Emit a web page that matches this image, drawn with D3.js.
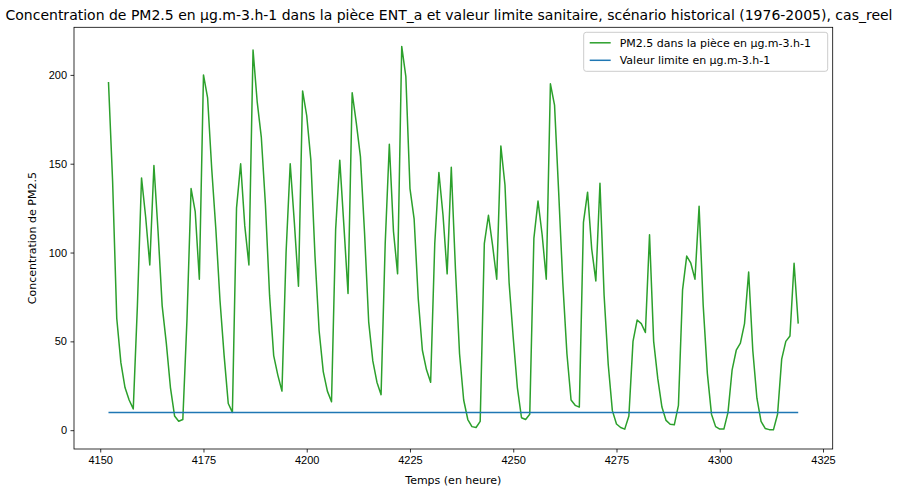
<!DOCTYPE html>
<html>
<head>
<meta charset="utf-8">
<script src="https://cdn.jsdelivr.net/npm/d3@7"></script>
<style>
  body { margin: 0; background: #fff; }
  svg { font-family: "DejaVu Sans", sans-serif; }
  .tick text { font-size: 11px; fill: #000; }
  .tick line { stroke: #000; stroke-width: 0.8; }
</style>
</head>
<body>
<svg id="chart" width="897" height="490"></svg>
<script>
// hourly PM2.5 values, first value at hour 4152
const hourStart = 4152;
const pm25 = [
  196, 140, 63, 38, 24, 17, 12, 70, 142, 120, 93, 149,
  112, 70, 49, 24, 8, 5, 6, 62, 136, 123, 85, 200,
  187, 147, 113, 73, 42, 15, 10, 125, 150, 115, 93, 214,
  185, 165, 127, 76, 42, 31, 22, 100, 150, 117, 81, 191,
  177, 152, 98, 56, 33, 22, 16, 113, 152, 115, 77, 190,
  173, 154, 111, 61, 39, 27, 20, 105, 161, 112, 88, 216,
  199, 136, 119, 74, 45, 34, 27, 105, 145, 121, 88, 148,
  91, 43, 17, 6, 2, 1.5, 5, 105, 121, 104, 85, 160,
  138, 83, 52, 24, 7, 6, 9, 108, 129, 110, 85, 195,
  183, 134, 83, 43, 17, 14, 13, 117, 134, 102, 84, 139,
  76, 37, 11, 3.5, 1.5, 0.6, 8, 50, 62, 60, 55, 110,
  50, 29, 13, 5.5, 3.3, 3, 14, 79, 98, 94, 85, 126,
  70, 32, 9, 2, 0.6, 0.6, 10, 34, 45, 49, 60, 89,
  45, 18, 5, 1, 0.3, 0.2, 9, 40, 50, 53, 94, 60
];
const limitValue = 10;

const xTicks = [4150, 4175, 4200, 4225, 4250, 4275, 4300, 4325];
const yTicks = [0, 50, 100, 150, 200];

const titleText = "Concentration de PM2.5 en µg.m-3.h-1 dans la pièce ENT_a et valeur limite sanitaire, scénario historical (1976-2005), cas_reel";
const xLabel = "Temps (en heure)";
const yLabel = "Concentration de PM2.5";
const legendNames = ["PM2.5 dans la pièce en µg.m-3.h-1", "Valeur limite en µg.m-3.h-1"];
const colors = ["#2ca02c", "#1f77b4"];

// axes box in pixels
const margin = { top: 27.3, right: 64.3, bottom: 41, left: 74 };
const width = 897, height = 490;

const series = pm25.map((v, i) => ({ h: hourStart + i, v: v }));
const limitSeries = series.map(d => ({ h: d.h, v: limitValue }));

const svg = d3.select("#chart");

// matplotlib-like 5% margins
const hExt = d3.extent(series, d => d.h);
const hPad = (hExt[1] - hExt[0]) * 0.05;
const vMin = Math.min(d3.min(pm25), limitValue);
const vMax = Math.max(d3.max(pm25), limitValue);
const vPad = (vMax - vMin) * 0.05;

const x = d3.scaleLinear()
  .domain([hExt[0] - hPad, hExt[1] + hPad])
  .range([margin.left, width - margin.right]);
const y = d3.scaleLinear()
  .domain([vMin - vPad, vMax + vPad])
  .range([height - margin.bottom, margin.top]);

// x axis
const xAxis = d3.axisBottom(x).tickValues(xTicks).tickFormat(d3.format("d"))
  .tickSize(3.5).tickPadding(3.5).tickSizeOuter(0);
svg.append("g")
  .attr("transform", `translate(0, ${height - margin.bottom})`)
  .call(xAxis)
  .call(g => g.select(".domain").remove());

// y axis
const yAxis = d3.axisLeft(y).tickValues(yTicks).tickFormat(d3.format("d"))
  .tickSize(3.5).tickPadding(3.5).tickSizeOuter(0);
svg.append("g")
  .attr("transform", `translate(${margin.left}, 0)`)
  .call(yAxis)
  .call(g => g.select(".domain").remove());

// lines
const line = d3.line().x(d => x(d.h)).y(d => y(d.v));
svg.append("path")
  .datum(series)
  .attr("fill", "none")
  .attr("stroke", colors[0])
  .attr("stroke-width", 1.5)
  .attr("stroke-linejoin", "round")
  .attr("d", line);
svg.append("path")
  .datum(limitSeries)
  .attr("fill", "none")
  .attr("stroke", colors[1])
  .attr("stroke-width", 1.5)
  .attr("d", line);

// frame
svg.append("rect")
  .attr("x", margin.left)
  .attr("y", margin.top)
  .attr("width", width - margin.left - margin.right)
  .attr("height", height - margin.top - margin.bottom)
  .attr("fill", "none")
  .attr("stroke", "#000")
  .attr("stroke-width", 0.8);

// title + axis labels
svg.append("text")
  .attr("x", 449)
  .attr("y", 20)
  .attr("text-anchor", "middle")
  .attr("font-size", 14)
  .text(titleText);
svg.append("text")
  .attr("x", (margin.left + width - margin.right) / 2)
  .attr("y", 484)
  .attr("text-anchor", "middle")
  .attr("font-size", 11)
  .text(xLabel);
svg.append("text")
  .attr("transform", `translate(36, ${(margin.top + height - margin.bottom) / 2}) rotate(-90)`)
  .attr("text-anchor", "middle")
  .attr("font-size", 11)
  .text(yLabel);

// legend
const lgX = width - margin.right - 5 - 244, lgY = margin.top + 5;
const legend = svg.append("g").attr("transform", `translate(${lgX}, ${lgY})`);
legend.append("rect")
  .attr("width", 244).attr("height", 39)
  .attr("rx", 2.5)
  .attr("fill", "#fff").attr("fill-opacity", 0.8)
  .attr("stroke", "#ccc").attr("stroke-width", 1);
legendNames.forEach((name, i) => {
  const cy = 10.5 + i * 17.5;
  legend.append("line")
    .attr("x1", 6).attr("x2", 27).attr("y1", cy).attr("y2", cy)
    .attr("stroke", colors[i]).attr("stroke-width", 1.5);
  legend.append("text")
    .attr("x", 36).attr("y", cy).attr("dy", "0.35em")
    .attr("font-size", 11)
    .text(name);
});
</script>
</body>
</html>
